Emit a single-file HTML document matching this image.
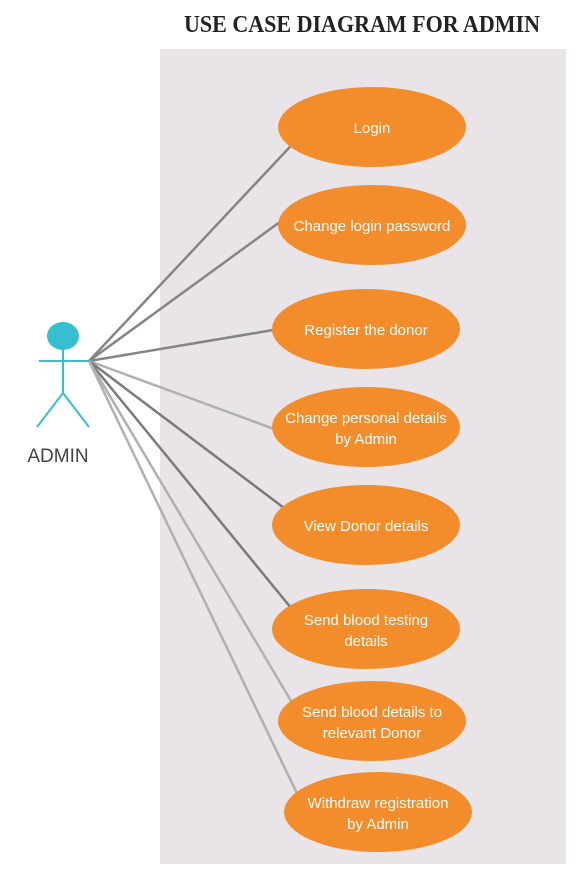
<!DOCTYPE html>
<html><head><style>
body{margin:0;width:576px;height:864px;background:#fff;overflow:hidden}
</style></head><body>
<svg width="576" height="864" xmlns="http://www.w3.org/2000/svg">
<rect x="160" y="49" width="406" height="815" fill="#e8e4e8"/>
<text x="362" y="32" text-anchor="middle" font-family="Liberation Serif, serif" font-weight="bold" font-size="24" fill="#222" textLength="356" lengthAdjust="spacingAndGlyphs">USE CASE DIAGRAM FOR ADMIN</text>
<g stroke-width="2.5" fill="none">
<line x1="89" y1="361" x2="302" y2="134" stroke="#858585"/>
<line x1="89" y1="361" x2="295" y2="211" stroke="#858585"/>
<line x1="89" y1="361" x2="285" y2="328" stroke="#858585"/>
<line x1="89" y1="361" x2="285" y2="433" stroke="#b0b0b0"/>
<line x1="89" y1="361" x2="296" y2="517" stroke="#7a7a7a"/>
<line x1="89" y1="361" x2="296" y2="614" stroke="#7a7a7a"/>
<line x1="89" y1="361" x2="300" y2="716" stroke="#b0b0b0"/>
<line x1="89" y1="361" x2="304" y2="808" stroke="#b0b0b0"/>
</g>
<g stroke="#35bfcf" stroke-width="2" fill="none">
<line x1="63" y1="349" x2="63" y2="393"/>
<line x1="39" y1="361" x2="89" y2="361"/>
<line x1="63" y1="393" x2="37" y2="427"/>
<line x1="63" y1="393" x2="89" y2="427"/>
</g>
<ellipse cx="63" cy="336" rx="16" ry="14" fill="#35bfcf"/>
<text x="58" y="462" text-anchor="middle" font-family="Liberation Sans, sans-serif" font-size="19" fill="#444">ADMIN</text>
<g fill="#f38c2b">
<ellipse cx="372" cy="127" rx="94" ry="40"/>
<ellipse cx="372" cy="225" rx="94" ry="40"/>
<ellipse cx="366" cy="329" rx="94" ry="40"/>
<ellipse cx="366" cy="427" rx="94" ry="40"/>
<ellipse cx="366" cy="525" rx="94" ry="40"/>
<ellipse cx="366" cy="629" rx="94" ry="40"/>
<ellipse cx="372" cy="721" rx="94" ry="40"/>
<ellipse cx="378" cy="812" rx="94" ry="40"/>
</g>
<g fill="#fff" font-family="Liberation Sans, sans-serif" font-size="15" text-anchor="middle">
<text x="372" y="133">Login</text>
<text x="372" y="231">Change login password</text>
<text x="366" y="335">Register the donor</text>
<text x="366" y="423">Change personal details</text>
<text x="366" y="444">by Admin</text>
<text x="366" y="531">View Donor details</text>
<text x="366" y="625">Send  blood testing</text>
<text x="366" y="646">details</text>
<text x="372" y="717">Send  blood  details to</text>
<text x="372" y="738">relevant Donor</text>
<text x="378" y="808">Withdraw registration</text>
<text x="378" y="829">by Admin</text>
</g>
</svg>
</body></html>
